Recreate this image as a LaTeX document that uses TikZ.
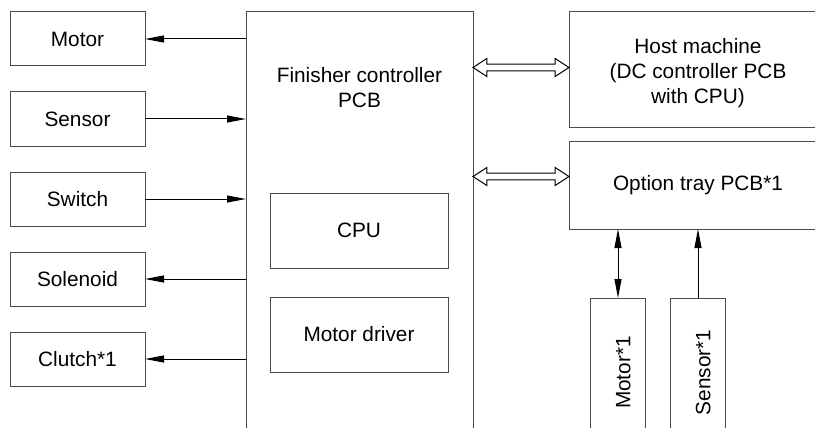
\documentclass[tikz,border=0pt]{standalone}
\usepackage{fontspec}
\setmainfont{Liberation Sans}
\usepackage{tikz}
\usetikzlibrary{shapes.arrows, arrows.meta, positioning}

\begin{document}
\begin{tikzpicture}[
        x=1pt, y=-1pt,
        font=\fontsize{20.8}{25}\selectfont,
        side_box/.style={draw=black!70, line width=1pt, minimum width=135pt, minimum height=54pt, inner sep=0pt, outer sep=0pt},
        inner_box/.style={draw=black!70, line width=1pt, minimum width=178pt, minimum height=75pt, inner sep=0pt, outer sep=0pt},
        big_box/.style={draw=black!70, line width=1pt, anchor=north west, inner sep=0pt, outer sep=0pt},
        vert_box/.style={draw=black!70, line width=1pt, rotate=90, anchor=east, minimum width=149pt, minimum height=55pt, text height=25pt, inner sep=0pt, outer sep=0pt},
        signal_arrow/.style={line width=1pt, -{Triangle[length=19pt, width=7pt]}},
        both_arrow/.style={line width=1pt, {Triangle[length=19pt, width=7pt]}-{Triangle[length=19pt, width=7pt]}},
        dbl_link/.style={double arrow, draw, fill=white, line width=1pt, minimum height=96pt, minimum width=17.4pt, inner sep=2.85pt, double arrow head extend=5.7pt, double arrow tip angle=66}
    ]
    \useasboundingbox (0,0) rectangle (815,428);
    \clip (0,0) rectangle (815,428);

    % finisher controller
    \node[big_box, minimum width=227pt, minimum height=440pt] (finisher) at (246,12) {};
    \node[align=center] (finisher_text) at (359.5,88) {Finisher controller\\PCB};
    \node[inner_box, anchor=north west] (cpu) at (270,193) {CPU};
    \node[inner_box, below=29pt of cpu] (driver) {Motor driver};

    % loads on the left
    \node[side_box, anchor=north west] (motor) at (10,12) {Motor};
    \node[side_box, below=26pt of motor] (sensor) {Sensor};
    \node[side_box, below=26pt of sensor] (switch) {Switch};
    \node[side_box, below=26pt of switch] (solenoid) {Solenoid};
    \node[side_box, below=26pt of solenoid] (clutch) {Clutch*1};

    \draw[signal_arrow] (motor.east -| finisher.west) -- (motor.east);
    \draw[signal_arrow] (sensor.east) -- (sensor.east -| finisher.west);
    \draw[signal_arrow] (switch.east) -- (switch.east -| finisher.west);
    \draw[signal_arrow] (solenoid.east -| finisher.west) -- (solenoid.east);
    \draw[signal_arrow] (clutch.east -| finisher.west) -- (clutch.east);

    % host and option tray
    \node[big_box, minimum width=258pt, minimum height=116pt] (host) at (569,12) {};
    \node[align=center] (host_text) at (698,73) {Host machine\\(DC controller PCB\\with CPU)};
    \node[big_box, minimum width=258pt, minimum height=87pt] (option_tray) at (569,142) {Option tray PCB*1};

    \node[dbl_link] (host_link) at (521,67.5) {};
    \node[dbl_link] (tray_link) at (521,176.5) {};

    \node[vert_box] (motor_opt) at (618,298) {Motor*1};
    \node[vert_box] (sensor_opt) at (698,298) {Sensor*1};

    \draw[both_arrow] (option_tray.south -| motor_opt.east) -- (motor_opt.east);
    \draw[signal_arrow] (sensor_opt.east) -- (sensor_opt.east |- option_tray.south);
\end{tikzpicture}
\end{document}
